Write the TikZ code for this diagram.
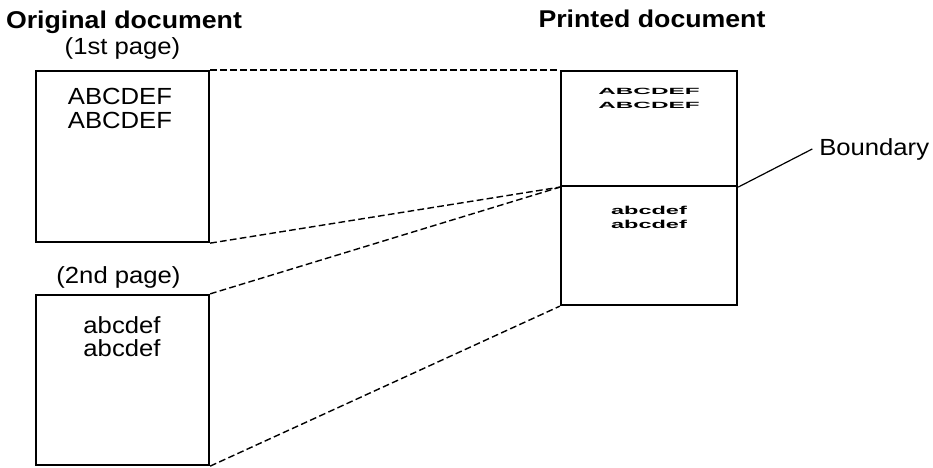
\documentclass[tikz,border=0pt]{standalone}
\usepackage{fontspec}
\usepackage{graphicx}
\setmainfont[FakeStretch=1.1]{Liberation Sans}
\newfontfamily\plainsans{Liberation Sans}
\usetikzlibrary{fit}
\begin{document}
\begin{tikzpicture}[x=0.75pt,y=-0.75pt,
  pagebox/.style={draw, line width=1.7pt, inner sep=0pt},
  link/.style={draw, line width=1.05pt, dash pattern=on 5pt off 2.5pt},
  leader/.style={draw, line width=0.9pt},
  title/.style={anchor=base, inner sep=0pt, font=\bfseries\fontsize{18.2pt}{21pt}\selectfont},
  txt/.style={anchor=base, inner sep=0pt, font=\fontsize{17.5pt}{20pt}\selectfont},
  small/.style={anchor=base, inner sep=0pt, font=\plainsans\bfseries\fontsize{6.75pt}{8pt}\selectfont}
]
\useasboundingbox (0,0) rectangle (933,468);

% titles
\node[title] (t1) at (124,28) {Original document};
\node[title] (t2) at (652,27) {Printed document};

% original pages
\node[pagebox, fit={(36,71) (209,242)}] (b1) {};
\node[pagebox, fit={(36,295) (209,465)}] (b2) {};
\node[txt] (p1) at (122.5,54) {(1st page)};
\node[txt] (p2) at (118.5,283) {(2nd page)};
\node[txt] (a1) at (120,104) {ABCDEF};
\node[txt] (a2) at (120,128) {ABCDEF};
\node[txt] (c1) at (122,333) {abcdef};
\node[txt] (c2) at (122,356) {abcdef};

% printed document
\node[pagebox, fit={(561,71) (737,186)}] (pt) {};
\node[pagebox, fit={(561,186) (737,305)}] (pb) {};
\node[small] (pa1) at (649,94) {\scalebox{2.7}[1]{ABCDEF}};
\node[small] (pa2) at (649,108) {\scalebox{2.7}[1]{ABCDEF}};
\node[small, font=\plainsans\bfseries\fontsize{8.6pt}{10pt}\selectfont] (pc1) at (649,214) {\scalebox{2.05}[1]{abcdef}};
\node[small, font=\plainsans\bfseries\fontsize{8.6pt}{10pt}\selectfont] (pc2) at (649,228) {\scalebox{2.05}[1]{abcdef}};

% boundary label
\node[txt, anchor=base west] (bnd) at (819,155) {Boundary};
\draw[leader] (pt.south east) -- ([xshift=-5pt]bnd.west);

% dashed connectors
\draw[link] (b1.north east) -- (pt.north west);
\draw[link] (b1.south east) -- (pt.south west);
\draw[link] (b2.north east) -- (pt.south west);
\draw[link] (b2.south east) -- (pb.south west);
\end{tikzpicture}
\end{document}
